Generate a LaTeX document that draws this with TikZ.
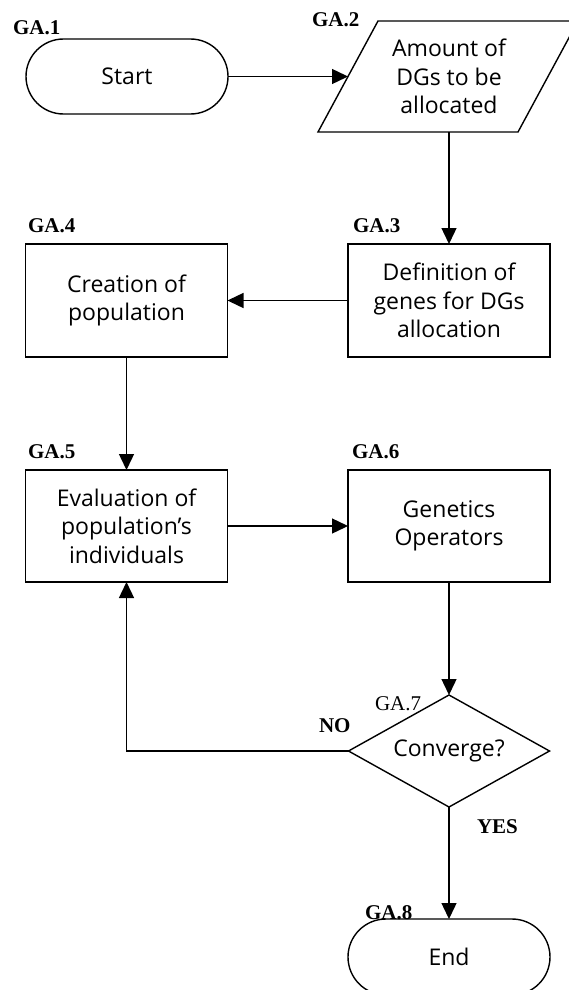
\documentclass[tikz,border=0pt]{standalone}
\usepackage{fontspec}
\setmainfont{Open Sans}
\newfontfamily\labfont{Liberation Serif}
\usetikzlibrary{arrows.meta,shapes.geometric}
\begin{document}
\begin{tikzpicture}[x=1pt,y=1pt,
  every node/.style={outer sep=0pt},
  txt/.style={align=center, font=\fontsize{23}{28.5}\selectfont},
  shapeline/.style={draw, line width=1.4pt},
  box/.style={txt, shapeline, rectangle, minimum width=202pt, minimum height=113pt, inner sep=0pt},
  term/.style={box, rounded corners=37.5pt, minimum height=75pt},
  decide/.style={txt, shapeline, diamond, aspect=1.8, minimum width=201pt, minimum height=112pt, inner sep=0pt},
  lab/.style={anchor=base west, inner sep=0pt, font=\labfont\bfseries\fontsize{21}{21}\selectfont},
  labr/.style={lab, font=\labfont\fontsize{21}{21}\selectfont},
  flow/.style={draw, line width=1.4pt, -{Triangle[length=16pt,width=15pt]}}
]
\useasboundingbox (0,0) rectangle (568,-990);

\node[term] (start) at (127,-76.5) {Start};
% parallelogram GA.2 (drawn directly, right side runs off the page)
\coordinate (p1) at (378,-21);
\coordinate (p2) at (578,-21);
\coordinate (p3) at (518,-132);
\coordinate (p4) at (318,-132);
\draw[shapeline, line join=miter] (p1) -- (p2) -- (p3) -- (p4) -- cycle;
\coordinate (ga2w) at (348,-76.5);
\coordinate (ga2s) at (449,-132);
\node[txt, inner sep=0pt] (ga2) at (449,-76.5) {Amount of\\DGs to be\\allocated};
\node[box] (ga3) at (449,-300.5) {Definition of\\genes for DGs\\allocation};
\node[box] (ga4) at (126.5,-300.5) {Creation of\\population};
\node[box, minimum height=112pt] (ga5) at (126.5,-526) {Evaluation of\\population's\\individuals};
\node[box, minimum height=112pt] (ga6) at (449,-526) {Genetics\\Operators};
\node[decide] (ga7) at (449,-751) {Converge?};
\node[term, minimum height=76pt, rounded corners=38pt] (ga8) at (449,-957) {End};

\node[lab] (l1) at (13,-35) {GA.1};
\node[lab] (l2) at (312,-27) {GA.2};
\node[lab] (l3) at (353,-232) {GA.3};
\node[lab] (l4) at (28,-232) {GA.4};
\node[lab] (l5) at (28,-458) {GA.5};
\node[lab] (l6) at (352,-458) {GA.6};
\node[labr] (l7) at (375,-710) {GA.7};
\node[lab] (l8) at (365,-919) {GA.8};
\node[lab] (no) at (319,-732) {NO};
\node[lab] (yes) at (477,-833) {YES};

\draw[flow] (start.east) -- (ga2w);
\draw[flow] (ga2s) -- (ga3.north);
\draw[flow] (ga3.west) -- (ga4.east);
\draw[flow] (ga4.south) -- (ga5.north);
\draw[flow] (ga5.east) -- (ga6.west);
\draw[flow] (ga6.south) -- (ga7.north);
\draw[flow] (ga7.west) -| (ga5.south);
\draw[flow] (ga7.south) -- (ga8.north);
\end{tikzpicture}
\end{document}
